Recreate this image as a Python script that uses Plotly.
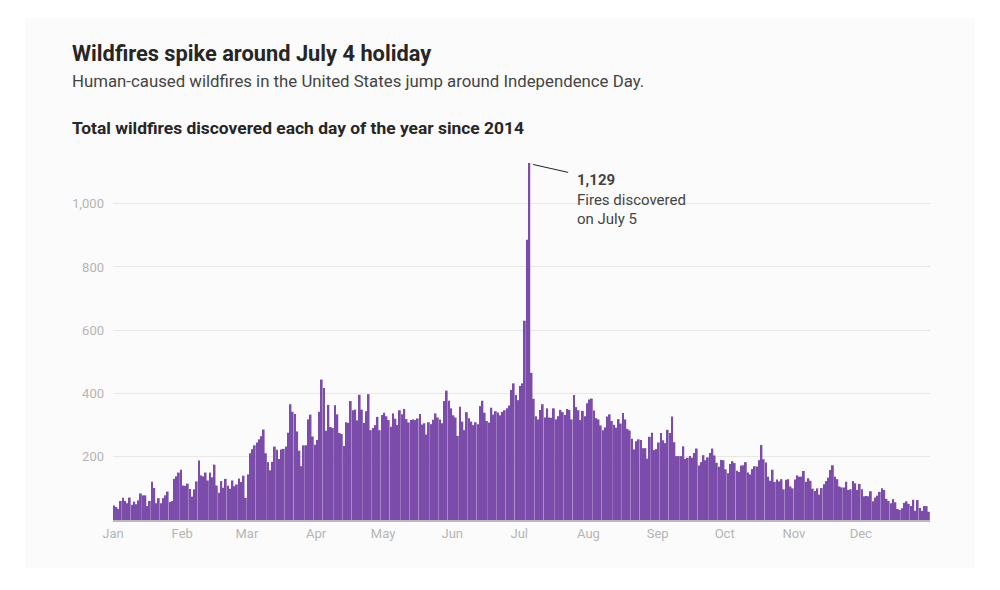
import plotly.graph_objects as go

# Daily totals of wildfires discovered (all years since 2014), by month (leap-year calendar)
jan = [46, 41, 35, 60, 70, 60, 53, 71, 48, 58, 50, 62, 84, 78, 78, 44, 60, 121, 101, 53,
       69, 53, 69, 78, 90, 57, 60, 130, 138, 150, 159]
feb = [109, 108, 115, 98, 74, 97, 122, 188, 141, 138, 150, 125, 150, 135, 175, 109, 86, 123,
       102, 130, 108, 99, 125, 107, 112, 131, 120, 140, 70]
mar = [144, 211, 224, 236, 245, 255, 265, 286, 211, 183, 157, 184, 232, 222, 193, 223, 225,
       232, 276, 366, 342, 335, 280, 219, 170, 236, 236, 318, 333, 264, 238]
apr = [253, 342, 444, 417, 282, 364, 294, 291, 363, 334, 275, 272, 234, 309, 307, 376, 347,
       349, 315, 396, 349, 307, 344, 398, 284, 291, 300, 326, 284, 332]
may = [339, 328, 316, 295, 337, 320, 300, 347, 334, 351, 319, 308, 316, 318, 316, 321, 335,
       302, 306, 270, 309, 303, 317, 337, 324, 318, 306, 376, 409, 377, 353]
jun = [331, 324, 266, 358, 311, 284, 341, 322, 311, 300, 309, 303, 360, 377, 339, 313, 308,
       355, 333, 344, 340, 331, 342, 347, 353, 362, 411, 432, 395, 379]
jul = [424, 432, 630, 886, 1129, 465, 383, 328, 318, 348, 366, 324, 353, 324, 323, 353, 318,
       328, 348, 341, 332, 351, 348, 318, 395, 357, 347, 316, 345, 328, 369]
aug = [381, 384, 346, 322, 318, 299, 284, 293, 327, 334, 313, 301, 292, 319, 305, 338, 318,
       288, 283, 257, 223, 249, 255, 253, 227, 227, 194, 263, 276, 221, 224]
sep = [245, 275, 252, 243, 285, 275, 327, 246, 202, 202, 202, 233, 193, 197, 202, 197, 212,
       226, 172, 183, 205, 189, 198, 212, 226, 204, 181, 168, 190, 189]
oct_ = [160, 148, 177, 186, 180, 156, 152, 172, 173, 183, 150, 144, 161, 170, 169, 189, 237,
        192, 182, 137, 124, 159, 120, 128, 122, 129, 97, 127, 129, 106, 100]
nov = [128, 141, 137, 137, 155, 121, 132, 124, 99, 92, 100, 80, 101, 113, 123, 134, 158, 173,
       137, 129, 106, 103, 103, 121, 95, 97, 123, 116, 95, 114]
dec = [97, 75, 76, 75, 91, 59, 71, 77, 89, 100, 95, 67, 60, 53, 66, 56, 35, 32, 37, 54, 59,
       51, 44, 64, 29, 63, 38, 29, 44, 44, 26]

month_labels = ["Jan", "Feb", "Mar", "Apr", "May", "Jun", "Jul", "Aug", "Sep", "Oct", "Nov", "Dec"]
y_ticks = [200, 400, 600, 800, 1000]
y_tick_text = ["200", "400", "600", "800", "1,000"]

peak_value = 1129
peak_text = "<b>1,129</b><br>Fires discovered<br>on July 5"

months = [jan, feb, mar, apr, may, jun, jul, aug, sep, oct_, nov, dec]
values = [v for m in months for v in m]
days = list(range(len(values)))

month_starts = []
acc = 0
for m in months:
    month_starts.append(acc - 0.5)
    acc += len(m)

peak_day = values.index(peak_value)

# page renders figure offset by 8px (body margin); plot area spans page x 113..930, y 161..520
PLOT_TOP, PLOT_BOTTOM, PLOT_H = 161, 520, 359.0
TEXT_X = (70 - 113) / 817.0


def py(pixel_y):
    return (PLOT_BOTTOM - pixel_y) / PLOT_H


fig = go.Figure()
fig.add_trace(go.Bar(
    x=days, y=values,
    marker=dict(color="#7b4ca9", line=dict(width=0)),
    hoverinfo="skip",
))

fig.update_layout(
    width=992, height=582,
    margin=dict(l=105, r=70, t=153, b=70),
    paper_bgcolor="white",
    plot_bgcolor="rgba(0,0,0,0)",
    bargap=0.18,
    showlegend=False,
    font=dict(family="Roboto, Arial, sans-serif"),
    xaxis=dict(
        range=[-0.5, len(values) - 0.5],
        tickmode="array", tickvals=month_starts, ticktext=month_labels,
        tickfont=dict(size=13, color="#b5b5b5"),
        showgrid=False, zeroline=False,
        showline=True, linecolor="#b9b9b9", linewidth=2,
        ticks="", fixedrange=True,
    ),
    yaxis=dict(
        range=[0, 1135],
        tickmode="array", tickvals=y_ticks, ticktext=y_tick_text,
        tickfont=dict(size=13, color="#b5b5b5"),
        showgrid=True, gridcolor="#e8e8e8", gridwidth=1,
        zeroline=False, showline=False, ticks="",
        ticklabelstandoff=8,
    ),
    shapes=[
        dict(type="rect", xref="paper", yref="paper",
             x0=-0.1077, x1=1.055, y0=py(568), y1=py(18),
             fillcolor="#fbfbfb", line=dict(width=0), layer="below"),
        dict(type="line", xref="x", yref="y",
             x0=peak_day + 1.7, y0=peak_value - 5, x1=peak_day + 17.4, y1=peak_value - 30,
             line=dict(color="#222222", width=1)),
    ],
    annotations=[
        dict(text="<b>Wildfires spike around July 4 holiday</b>",
             xref="paper", yref="paper", x=TEXT_X, y=py(53),
             xanchor="left", yanchor="middle", showarrow=False,
             font=dict(size=21.8, color="#262626")),
        dict(text="Human-caused wildfires in the United States jump around Independence Day.",
             xref="paper", yref="paper", x=TEXT_X, y=py(81),
             xanchor="left", yanchor="middle", showarrow=False,
             font=dict(size=16.8, color="#444444")),
        dict(text="<b>Total wildfires discovered each day of the year since 2014</b>",
             xref="paper", yref="paper", x=TEXT_X, y=py(128),
             xanchor="left", yanchor="middle", showarrow=False,
             font=dict(size=17.4, color="#262626")),
        dict(text=peak_text, xref="x", yref="y",
             x=peak_day + 20.5, y=peak_value - 20,
             xanchor="left", yanchor="top", align="left", showarrow=False,
             font=dict(size=15, color="#444444")),
    ],
)

fig.write_html("out.html")
